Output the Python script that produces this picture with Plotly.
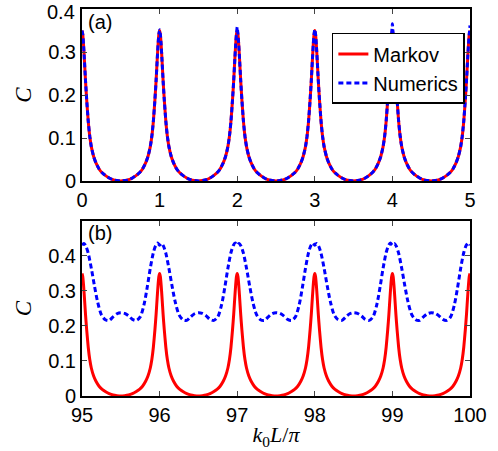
import plotly.graph_objects as go

# ---- data ----
# Markov curve: one period, offset from a peak (integer k0L/pi) -> C
MARKOV_OFFSETS = [-0.50, -0.45, -0.40, -0.35, -0.30, -0.26, -0.22, -0.18, -0.15, -0.12, -0.10, -0.08,
                  -0.06, -0.045, -0.03, -0.02, -0.01, 0.00, 0.01, 0.02, 0.03, 0.045, 0.06, 0.08,
                  0.10, 0.12, 0.15, 0.18, 0.22, 0.26, 0.30, 0.35, 0.40, 0.45, 0.50]
MARKOV_VALUES = [0.000, 0.001, 0.003, 0.007, 0.013, 0.019, 0.028, 0.042, 0.057, 0.080, 0.104, 0.140,
                 0.190, 0.234, 0.285, 0.317, 0.341, 0.350, 0.341, 0.317, 0.285, 0.234, 0.190, 0.140,
                 0.104, 0.080, 0.057, 0.042, 0.028, 0.019, 0.013, 0.007, 0.003, 0.001, 0.000]

# panel (a): numerics follow Markov, peak heights differ slightly
PEAKS_A = [0, 1, 2, 3, 4, 5]
NUMERICS_A_PEAKS = [0.350, 0.352, 0.358, 0.353, 0.366, 0.362]

# panel (b): numerics, one period
PEAKS_B = [95, 96, 97, 98, 99, 100]
NUM_B_OFFSETS = [-0.50, -0.45, -0.40, -0.35, -0.30, -0.25, -0.20, -0.16, -0.12, -0.08, -0.05, -0.025,
                 0.00, 0.025, 0.05, 0.08, 0.12, 0.16, 0.20, 0.25, 0.30, 0.35, 0.40, 0.45, 0.50]
NUM_B_VALUES = [0.238, 0.236, 0.229, 0.219, 0.216, 0.226, 0.262, 0.310, 0.365, 0.410, 0.430, 0.437,
                0.431, 0.436, 0.428, 0.408, 0.365, 0.315, 0.270, 0.232, 0.218, 0.216, 0.226, 0.235, 0.238]

X_TICKS_A = [0, 1, 2, 3, 4, 5]
X_TICKS_B = [95, 96, 97, 98, 99, 100]
Y_TICKS_A = [0, 0.1, 0.2, 0.3, 0.4]
Y_TICKS_B = [0, 0.1, 0.2, 0.3, 0.4]
Y_TICK_TEXT = ["0", "0.1", "0.2", "0.3", "0.4"]


def tile(peaks, offsets, values, lo, hi, peak_values=None):
    xs, ys = [], []
    for i, p in enumerate(peaks):
        for o, v in zip(offsets, values):
            x = p + o
            if x < lo - 1e-9 or x > hi + 1e-9:
                continue
            if xs and abs(xs[-1] - x) < 1e-9:
                continue
            if peak_values is not None and o == 0:
                v = peak_values[i]
            xs.append(x)
            ys.append(v)
    return xs, ys


mxa, mya = tile(PEAKS_A, MARKOV_OFFSETS, MARKOV_VALUES, 0, 5)
nxa, nya = tile(PEAKS_A, MARKOV_OFFSETS, MARKOV_VALUES, 0, 5, NUMERICS_A_PEAKS)
mxb, myb = tile(PEAKS_B, MARKOV_OFFSETS, MARKOV_VALUES, 95, 100)
nxb, nyb = tile(PEAKS_B, NUM_B_OFFSETS, NUM_B_VALUES, 95, 100)

RED = "#ff0000"
BLUE = "#0000ff"
FONT = "Liberation Sans, Arial, Helvetica, sans-serif"
SERIF = "Liberation Serif, DejaVu Serif, serif"
TOP_M = 9
PLOT_H = 451 - TOP_M - 55

fig = go.Figure()
fig.add_trace(go.Scatter(x=mxa, y=mya, mode="lines", name="Markov",
                         line=dict(color=RED, width=3, shape="spline", smoothing=0.5),
                         xaxis="x", yaxis="y"))
fig.add_trace(go.Scatter(x=nxa, y=nya, mode="lines", name="Numerics",
                         line=dict(color=BLUE, width=3, dash="5px,3px", shape="spline", smoothing=0.5),
                         xaxis="x", yaxis="y"))
fig.add_trace(go.Scatter(x=mxb, y=myb, mode="lines", name="Markov", showlegend=False,
                         line=dict(color=RED, width=3, shape="spline", smoothing=0.5),
                         xaxis="x2", yaxis="y2"))
fig.add_trace(go.Scatter(x=nxb, y=nyb, mode="lines", name="Numerics", showlegend=False,
                         line=dict(color=BLUE, width=3, dash="5px,3px", shape="spline", smoothing=0.8),
                         xaxis="x2", yaxis="y2"))

axis_common = dict(showline=True, linecolor="black", linewidth=2, mirror="ticks",
                   ticks="inside", ticklen=5, tickwidth=1, tickcolor="#444",
                   showgrid=False, zeroline=False, ticklabeloverflow="allow", automargin=False,
                   tickfont=dict(family=FONT, size=20, color="black"))

# the top label of panel (a) is drawn as an annotation so it stays inside the page
top_text_a = Y_TICK_TEXT[:-1] + [""]

fig.update_layout(
    width=498, height=451,
    margin=dict(l=82, r=28, t=TOP_M, b=55, autoexpand=False),
    paper_bgcolor="white", plot_bgcolor="white",
    showlegend=True,
    legend=dict(x=0.644, y=0.938, xanchor="left", yanchor="top",
                bgcolor="white", bordercolor="black", borderwidth=1.5,
                font=dict(family=FONT, size=20, color="black"),
                tracegroupgap=0, itemwidth=30),
    xaxis=dict(domain=[0, 1], range=[0, 5], tickvals=X_TICKS_A, anchor="y", **axis_common),
    yaxis=dict(domain=[0.5556, 1], range=[0, 0.4002], tickvals=Y_TICKS_A,
               ticktext=top_text_a, anchor="x",
               title=dict(text="<i>C</i>", font=dict(family=SERIF, size=23, color="black"),
                          standoff=10), **axis_common),
    xaxis2=dict(domain=[0, 1], range=[95, 100], tickvals=X_TICKS_B, anchor="y2",
                title=dict(text="<i>k</i><sub>0</sub><i>L</i>/<i>π</i>",
                           font=dict(family=SERIF, size=22, color="black"),
                           standoff=2), **axis_common),
    yaxis2=dict(domain=[0, 0.4522], range=[0, 0.5], tickvals=Y_TICKS_B,
                ticktext=Y_TICK_TEXT, anchor="x2",
                title=dict(text="<i>C</i>", font=dict(family=SERIF, size=23, color="black"),
                           standoff=10), **axis_common),
    annotations=[
        dict(text=Y_TICK_TEXT[-1], x=0, y=1 + TOP_M / PLOT_H, xref="paper", yref="paper",
             xanchor="right", yanchor="top", xshift=-6, showarrow=False, borderpad=0,
             font=dict(family=FONT, size=20, color="black")),
        dict(text="(a)", x=0.01, y=1.0, xref="paper", yref="paper", xanchor="left", yanchor="top",
             showarrow=False, font=dict(family=FONT, size=20, color="black")),
        dict(text="(b)", x=0.01, y=0.4545, xref="paper", yref="paper", xanchor="left", yanchor="top",
             showarrow=False, font=dict(family=FONT, size=20, color="black")),
    ],
)

fig.write_html("out.html")
